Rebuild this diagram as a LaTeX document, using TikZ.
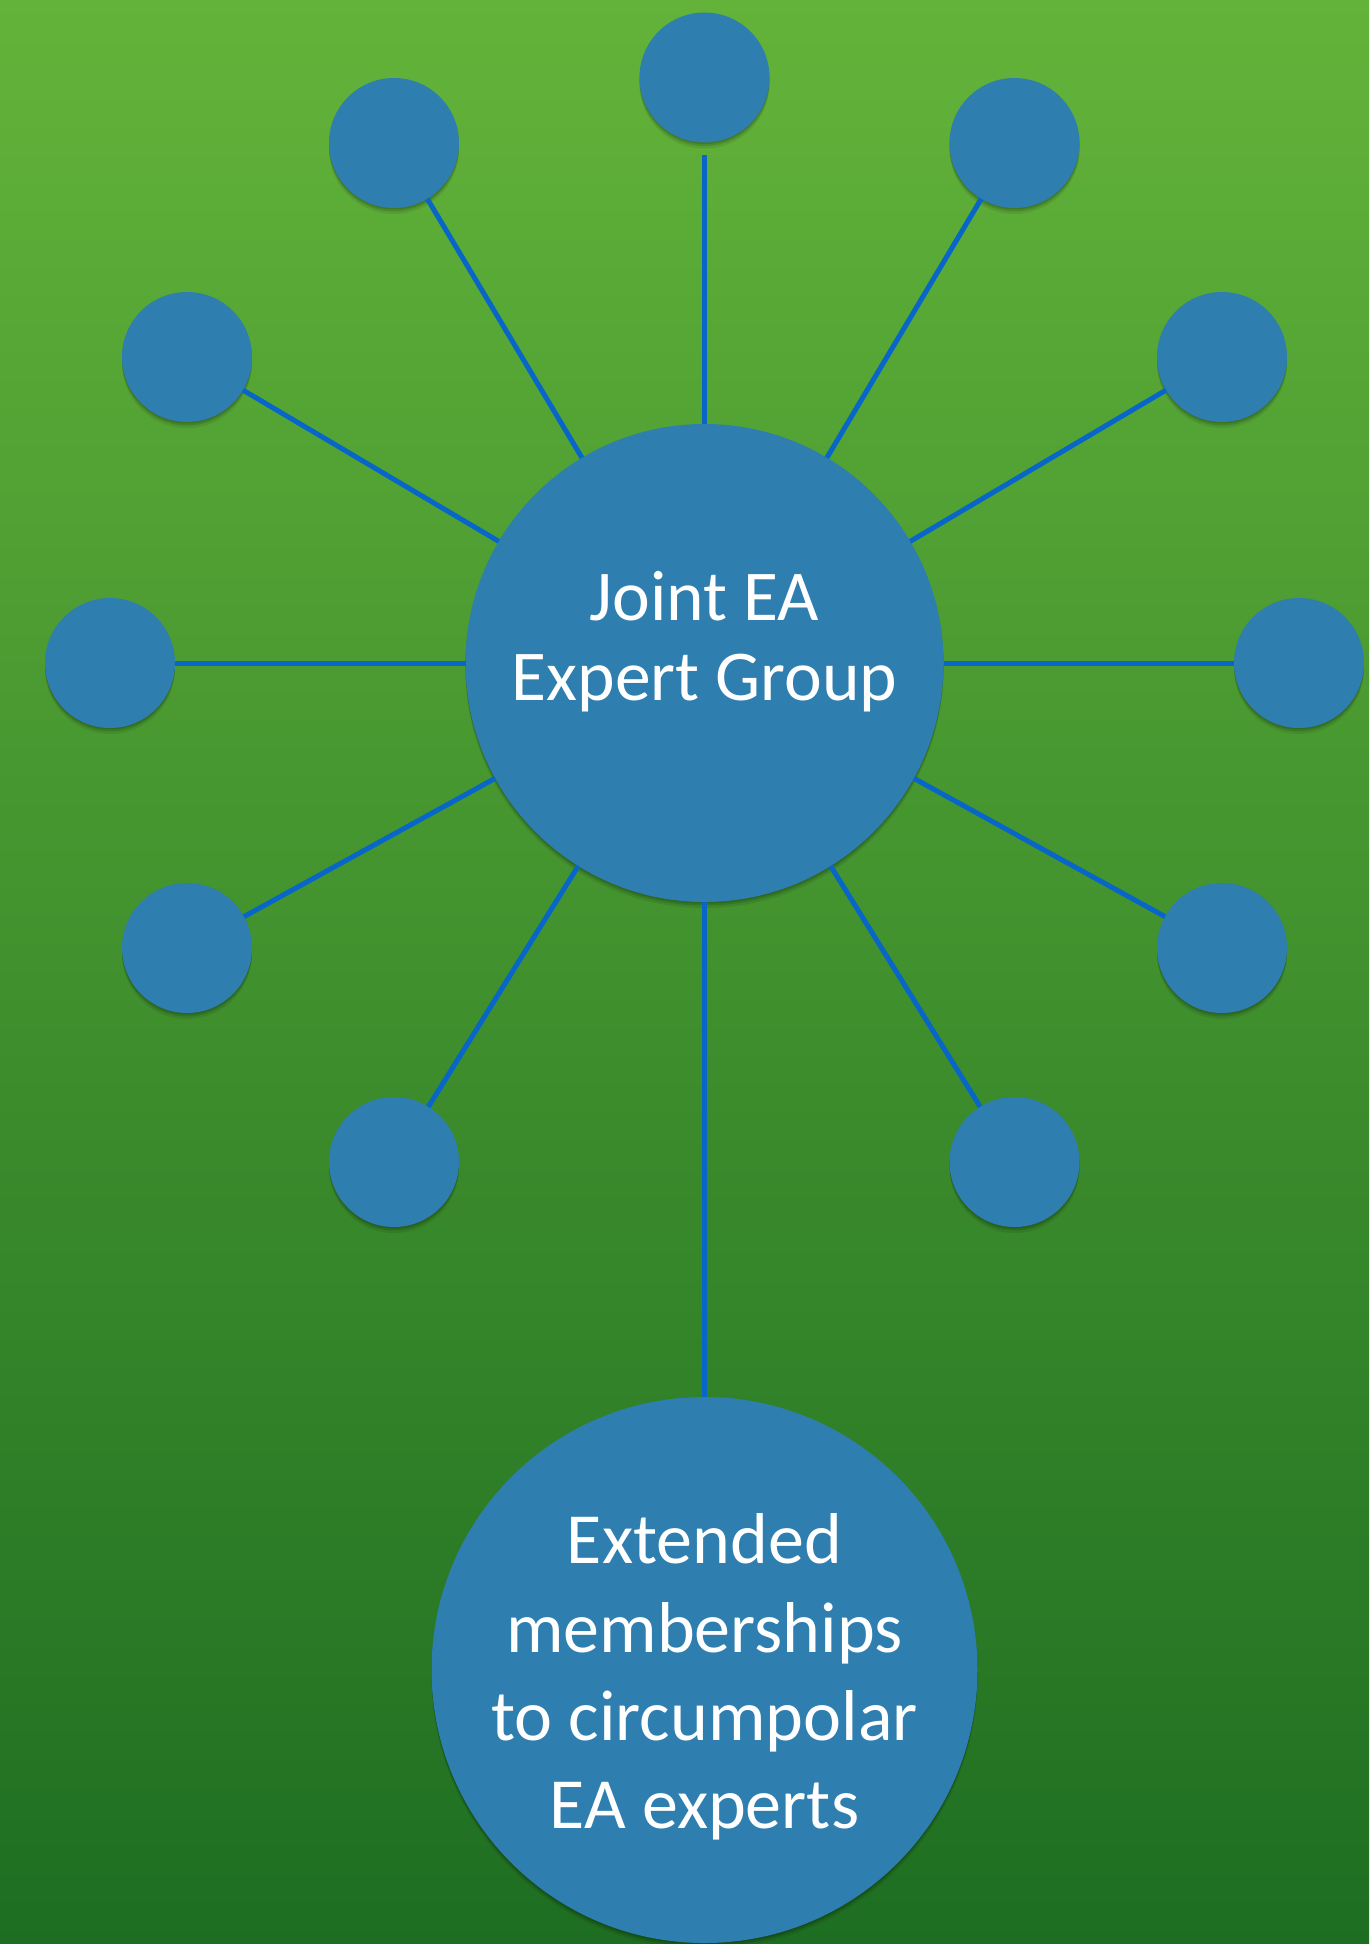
\documentclass[tikz,border=0pt]{standalone}
\usepackage{fontspec}
\setmainfont{Carlito}
\usetikzlibrary{shadows}
\definecolor{bgtop}{RGB}{99,179,58}
\definecolor{bgbot}{RGB}{30,110,34}
\definecolor{cblue}{RGB}{46,126,176}
\definecolor{lblue}{RGB}{8,102,200}
\tikzset{
  circ/.style={circle, fill=cblue, inner sep=0pt, outer sep=0pt,
    general shadow={fill=black, opacity=.08, shadow yshift=-6pt},
    general shadow={fill=black, opacity=.12, shadow yshift=-3.5pt},
    general shadow={fill=black, opacity=.12, shadow yshift=-1.5pt}},
  small/.style={circ, minimum size=130pt},
  conn/.style={draw=lblue, line width=5pt},
  ctxt/.style={text=white, anchor=base, inner sep=0pt, font=\fontsize{71.5}{80}\selectfont},
  btxt/.style={text=white, anchor=base, inner sep=0pt, font=\fontsize{72}{88}\selectfont}
}
\begin{document}
\begin{tikzpicture}[x=1pt,y=-1pt]
\shade[top color=bgtop, bottom color=bgbot] (0,0) rectangle (1369,1944);
\useasboundingbox (0,0) rectangle (1369,1944);
% central and bottom circles
\node[circ, minimum size=478pt] (c) at (704.5,663) {};
\node[circ, minimum size=546pt] (b) at (704.5,1670) {};
% small circles
\node[small] (s90)  at (704.5,77.5) {};
\node[small] (s120) at (394,143) {};
\node[small] (s60)  at (1014.5,143) {};
\node[small] (s150) at (187,357) {};
\node[small] (s30)  at (1222,357) {};
\node[small] (s180) at (110,663) {};
\node[small] (s0)   at (1299,663) {};
\node[small] (s210) at (187,948) {};
\node[small] (s330) at (1222,948) {};
\node[small] (s240) at (394,1162) {};
\node[small] (s300) at (1014.5,1162) {};
% connectors
\draw[conn, shorten >=12pt] (c) -- (s90);
\foreach \n in {s120,s60,s150,s30,s180,s0,s210,s330,s240,s300}
  \draw[conn] (c) -- (\n);
\draw[conn] (c) -- (b);
% texts
\node[ctxt] (t1) at (704.5,620) {Joint EA};
\node[ctxt] (t2) at (704.5,700) {Expert Group};
\node[btxt] (b1) at (704.5,1563) {Extended};
\node[btxt] (b2) at (704.5,1652) {memberships};
\node[btxt] (b3) at (704.5,1740) {to circumpolar};
\node[btxt] (b4) at (704.5,1828) {EA experts};
\end{tikzpicture}
\end{document}
